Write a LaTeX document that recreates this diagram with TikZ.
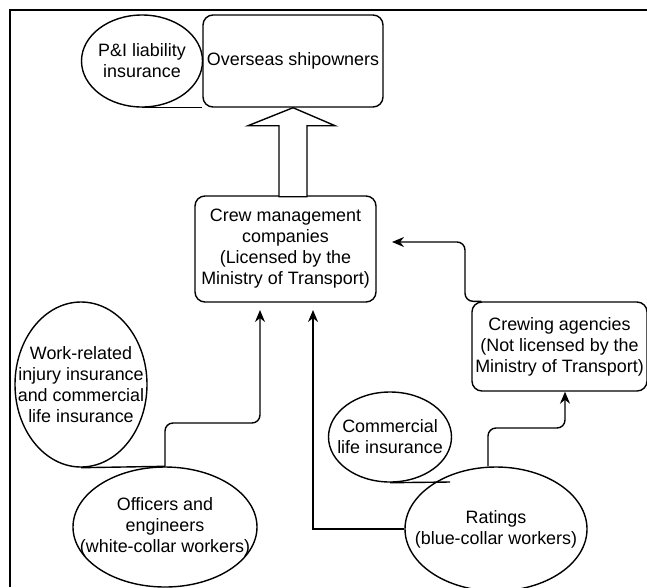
\documentclass[tikz,border=0pt]{standalone}
\usepackage{fontspec}
\setmainfont{Liberation Sans}
\usetikzlibrary{shapes.geometric, arrows.meta}

\begin{document}
\begin{tikzpicture}[x=1pt, y=-1pt, font=\fontsize{17.9}{21}\selectfont,
    box/.style={rectangle, rounded corners=10pt, draw, line width=1.4pt, align=center},
    oval/.style={ellipse, draw, line width=1.4pt, inner sep=0pt},
    arr/.style={line width=1.4pt, -{Stealth[length=12pt, width=10pt]}},
    link/.style={line width=1.4pt},
    hollow/.style={line width=1.4pt, fill=white, line join=miter}]
			\useasboundingbox (0,0) rectangle (647,587);
			\draw[line width=2.5pt] (10,587) -- (10,10) -- (647,10);
			% top level
			\node[box, minimum width=180pt, minimum height=92pt] (owners) at (293,61) {Overseas shipowners};
			\node[oval, minimum width=121pt, minimum height=92pt, label={[align=center]center:P\&I liability\\insurance}] (pi) at (142,61) {};
			\draw[link] (pi.south) -- (pi.south -| owners.west);
			% middle
			\node[box, minimum width=181pt, minimum height=106pt] (crew) at (285.5,249) {Crew management\\companies\\(Licensed by the\\Ministry of Transport)};
			\node[box, minimum width=173pt, minimum height=89pt] (crewing) at (559.5,346.5) {Crewing agencies\\(Not licensed by the\\Ministry of Transport)};
			\draw[hollow] (owners.south) -- ++(42,18) -- ++(-28,0) -- ++(0,71) -- ++(-28,0) -- ++(0,-71) -- ++(-31,0) -- cycle;
			% workers
			\node[oval, minimum width=132pt, minimum height=165pt, label={[align=center]center:Work-related\\injury insurance\\and commercial\\life insurance}] (work) at (81,384.5) {};
			\node[oval, minimum width=184pt, minimum height=120pt, label={[align=center]center:Officers and\\engineers\\(white-collar workers)}] (officers) at (165,527) {};
			\node[oval, minimum width=123pt, minimum height=90pt, label={[align=center]center:Commercial\\life insurance}] (comm) at (390,437) {};
			\node[oval, minimum width=182pt, minimum height=124pt, label={[align=center]center:Ratings\\(blue-collar workers)}] (ratings) at (496,529) {};
			\draw[link] (work.south) -- (officers.north);
			\coordinate (commend) at (450,482);
			\draw[link] (comm.south) -- (commend);
			% connectors
			\coordinate (obend) at (260,423);
			\coordinate (otip) at (260,310);
			\draw[arr, rounded corners=8pt] (officers.north) |- (obend) -- (otip);
			\coordinate (rtip) at (313,310);
			\draw[arr] (ratings.west) -| (rtip);
			\coordinate (rbend) at (565,428);
			\draw[arr, rounded corners=8pt] ([xshift=-8pt]ratings.north) |- (rbend) -- (rbend |- crewing.south);
			\coordinate (gbend) at (465,242);
			\coordinate (gtip) at (392,242);
			\draw[arr, rounded corners=8pt] ([xshift=10pt]crewing.north west) -| (gbend) -- (gtip);
\end{tikzpicture}
\end{document}
